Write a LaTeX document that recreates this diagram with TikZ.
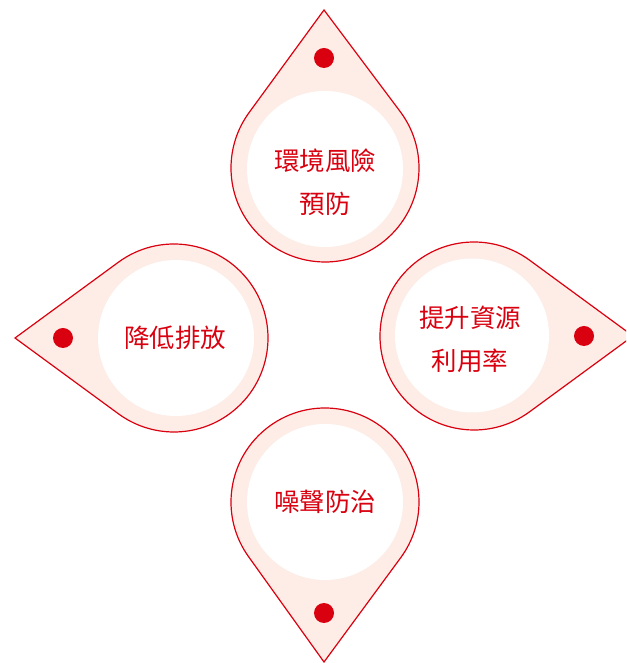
\documentclass[tikz,border=0pt]{standalone}
\usepackage{fontspec}
\usetikzlibrary{calc}
\newfontfamily\cjk{Noto Sans CJK TC}
\definecolor{dropred}{HTML}{D9000F}
\definecolor{dropfill}{HTML}{FDEDE6}
\begin{document}
\begin{tikzpicture}[x=1pt,y=1pt,
  drop/.style={draw=dropred,line width=1.2pt,fill=dropfill,line join=miter},
  inner/.style={circle,fill=white,minimum size=#1,inner sep=0pt},
  dot/.style={circle,fill=dropred,minimum size=20pt,inner sep=0pt},
  lbl/.style={text=dropred,font=\cjk\fontsize{25.5}{43}\selectfont,align=center}]
\useasboundingbox (0,0) rectangle (626,663);
\clip (0,0) rectangle (626,663);
% top
\draw[drop] (324,653) -- ($(325,495)+(36.5:94)$) arc[start angle=36.5,end angle=-216.5,radius=94] -- cycle;
% left
\draw[drop] (15,325) -- ($(174,325)+(126.5:94)$) arc[start angle=126.5,end angle=-126.5,radius=94] -- cycle;
% right
\draw[drop] (633,327) -- ($(474,327)+(-53.5:94)$) arc[start angle=-53.5,end angle=-306.5,radius=94] -- cycle;
% bottom
\draw[drop] (324,1) -- ($(325,161)+(216.5:94)$) arc[start angle=216.5,end angle=-36.5,radius=94] -- cycle;
\node[inner=156pt] (ctop) at (325,494) {};
\node[inner=156pt] (cleft) at (176,325) {};
\node[inner=154pt] (cright) at (472,327.5) {};
\node[inner=156pt] (cbottom) at (325,161) {};
\node[dot] (dtop) at (324,605) {};
\node[dot] (dleft) at (63,325) {};
\node[dot] (dright) at (584,327) {};
\node[dot] (dbottom) at (324,50) {};
\node[lbl] (ttop) at (325,481) {環境風險\\預防};
\node[lbl] (tleft) at (175,325) {降低排放};
\node[lbl] (tright) at (470,324) {提升資源\\利用率};
\node[lbl] (tbottom) at (325,161) {噪聲防治};
\end{tikzpicture}
\end{document}
